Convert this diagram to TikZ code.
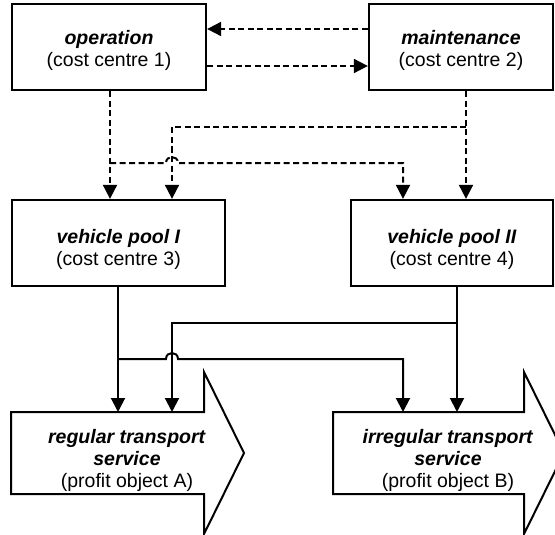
\documentclass[tikz,border=0pt]{standalone}
\usepackage{fontspec}
\setmainfont{Liberation Sans}
\usetikzlibrary{arrows.meta,calc}
\begin{document}
\begin{tikzpicture}[x=1pt,y=-1pt,
  box/.style={draw, line width=2.3pt, inner sep=0pt},
  conn/.style={line width=2pt, -{Triangle[width=14pt,length=14pt]}},
  dconn/.style={conn, dash pattern=on 6pt off 3.5pt},
  lbl/.style={align=center, font=\fontsize{19.5}{22}\selectfont, inner sep=0pt},
  body/.style={inner sep=0pt, outer sep=1pt},
  bigarrow/.style={draw, line width=2pt, line join=miter}
]
\useasboundingbox (0,0) rectangle (555,535);
\clip (0,0) rectangle (555,535);

% boxes
\node[box, minimum width=194pt, minimum height=86pt] (op) at (109,47) {};
\node[box, minimum width=184pt, minimum height=86pt] (mt) at (461,47) {};
\node[box, minimum width=213pt, minimum height=86pt] (p1) at (118.5,243) {};
\node[box, minimum width=202pt, minimum height=86pt] (p2) at (452,243) {};
\node[lbl] (opt) at ($(op)+(0,3)$) {\textbf{\textit{operation}}\\(cost centre 1)};
\node[lbl] (mtt) at ($(mt)+(0,3)$) {\textbf{\textit{maintenance}}\\(cost centre 2)};
\node[lbl] (p1t) at ($(p1)+(0,6)$) {\textbf{\textit{vehicle pool I}}\\(cost centre 3)};
\node[lbl] (p2t) at ($(p2)+(0,6)$) {\textbf{\textit{vehicle pool II}}\\(cost centre 4)};

% big arrow bodies
\node[body, minimum width=191pt, minimum height=80pt] (ra) at (107.5,453) {};
\node[body, minimum width=189pt, minimum height=80pt] (ia) at (428.5,453) {};
\draw[bigarrow] (ra.north west) -- (ra.north east) -- ++(0,-40) -- ($(ra.east)+(40,0)$) -- ($(ra.south east)+(0,40)$) -- (ra.south east) -- (ra.south west) -- cycle;
\draw[bigarrow] (ia.north west) -- (ia.north east) -- ++(0,-40) -- ($(ia.east)+(40,0)$) -- ($(ia.south east)+(0,40)$) -- (ia.south east) -- (ia.south west) -- cycle;
\node[lbl] (rat) at (127,460) {\textbf{\textit{regular transport}}\\\textbf{\textit{service}}\\(profit object A)};
\node[lbl] (iat) at (448,460) {\textbf{\textit{irregular transport}}\\\textbf{\textit{service}}\\(profit object B)};

% lanes
\coordinate (lA) at (110,0);
\coordinate (lB) at (466,0);
\coordinate (lC) at (172,0);
\coordinate (lD) at (403,0);
\coordinate (lE) at (118,0);
\coordinate (lF) at (457,0);
\coordinate (yC) at (0,127);
\coordinate (yD) at (0,163);
\coordinate (yG) at (0,323);
\coordinate (yH) at (0,359);

% dashed connectors
\draw[dconn] ($(mt.west)+(0,-18)$) -- ($(op.east)+(0,-18)$);
\draw[dconn] ($(op.east)+(0,19)$) -- ($(mt.west)+(0,19)$);
\draw[dconn] (op.south -| lA) -- (p1.north -| lA);
\draw[dconn] (mt.south -| lB) -- (p2.north -| lB);
\draw[dconn] (lB |- yC) -- (lC |- yC) -- (p1.north -| lC);
\draw[dconn] (lA |- yD) -- ($(lC |- yD)+(-6,0)$) .. controls +(0,-8) and +(0,-8) .. ($(lC |- yD)+(6,0)$) -- (lD |- yD) -- (p2.north -| lD);

% solid connectors
\draw[conn] (p1.south -| lE) -- (ra.north -| lE);
\draw[conn] (p2.south -| lF) -- (ia.north -| lF);
\draw[conn] (lF |- yG) -- (lC |- yG) -- (ra.north -| lC);
\draw[conn] (lE |- yH) -- ($(lC |- yH)+(-6,0)$) .. controls +(0,-8) and +(0,-8) .. ($(lC |- yH)+(6,0)$) -- (lD |- yH) -- (ia.north -| lD);
\end{tikzpicture}
\end{document}
